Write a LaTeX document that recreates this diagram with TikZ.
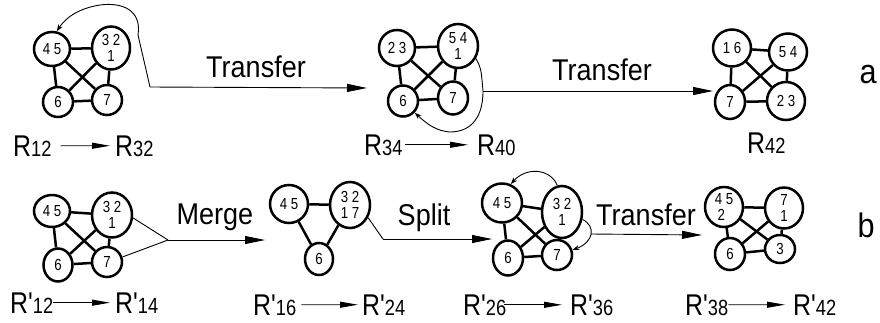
\documentclass[tikz,border=0pt]{standalone}
\usepackage{fontspec}
\setmainfont{Liberation Sans}[Ligatures=TeXOff]
\newfontfamily\condf{Liberation Sans}[Ligatures=TeXOff,FakeStretch=0.83]
\newfontfamily\opf{Liberation Sans}[Ligatures=TeXOff,FakeStretch=0.9]
\usetikzlibrary{arrows.meta,shapes.geometric}
\newcommand\Rsub[1]{{\fontsize{22}{22}\selectfont #1}}
\newcommand\Rl[1]{R\Rsub{#1}}
\newcommand\Rp[1]{R'\Rsub{#1}}
\begin{document}
\begin{tikzpicture}[x=1pt,y=-1pt,
 vtx/.style 2 args={ellipse,draw,line width=2.5pt,minimum width=#1,minimum height=#2,inner sep=0pt,align=center,font=\condf\fontsize{16}{16.5}\selectfont,fill=white},
 ed/.style={line width=2.5pt},
 conn/.style={line width=0.9pt},
 big/.style={-{Triangle[length=20pt,width=8pt]}},
 small/.style={-{Stealth[length=7pt,width=5pt]}},
 lab/.style={inner sep=0pt,font=\condf\fontsize{30}{30}\selectfont},
 larr/.style={line width=0.9pt,-{Triangle[length=18pt,width=6pt]}},
 op/.style={font=\opf\fontsize{30}{30}\selectfont,inner sep=0pt},
 side/.style={font=\opf\fontsize{34}{34}\selectfont,inner sep=0pt}]
\useasboundingbox (0,0) rectangle (880,322);

% ---------- Row a ----------
% graph 1
\node[vtx={36}{34}] (g1a) at (52,49) {4 5};
\node[vtx={38}{43}] (g1b) at (111,48) {3 2\\1};
\node[vtx={30}{30}] (g1c) at (58,102) {6};
\node[vtx={30}{30}] (g1d) at (107,100) {7};
\foreach \p/\q in {g1a/g1b,g1a/g1c,g1a/g1d,g1b/g1c,g1b/g1d,g1c/g1d} \draw[ed] (\p) -- (\q);
% graph 2
\node[vtx={36}{36}] (g2a) at (397,48) {2 3};
\node[vtx={40}{44}] (g2b) at (458,46) {5 4\\1};
\node[vtx={30}{31}] (g2c) at (403,101) {6};
\node[vtx={30}{33}] (g2d) at (453,98) {7};
\foreach \p/\q in {g2a/g2b,g2a/g2c,g2a/g2d,g2b/g2c,g2b/g2d,g2c/g2d} \draw[ed] (\p) -- (\q);
% graph 3
\node[vtx={38}{37}] (g3a) at (732,48) {1 6};
\node[vtx={38}{37}] (g3b) at (788,52) {5 4};
\node[vtx={30}{34}] (g3c) at (730,102) {7};
\node[vtx={38}{38}] (g3d) at (786,101) {2 3};
\foreach \p/\q in {g3a/g3b,g3a/g3c,g3a/g3d,g3b/g3c,g3b/g3d,g3c/g3d} \draw[ed] (\p) -- (\q);

% transfer 1
\coordinate (t1) at (150,87);
\coordinate (t1e) at (367,88);
\draw[conn,small] (t1) -- (138,35) .. controls (142,10) and (122,2) .. (100,5) .. controls (80,8) and (66,17) .. (g1a.75);
\draw[conn,big] (t1) -- (t1e);
\node[op] (tr1) at (256,67) {Transfer};
% transfer 2
\coordinate (t2) at (483,91);
\coordinate (t2e) at (713,91);
\draw[conn,small] (g2b.-35) .. controls (481,68) .. (t2) .. controls (483,122) and (467,132) .. (450,132) .. controls (437,131) and (428,125) .. (g2c.-45);
\draw[conn,big] (t2) -- (t2e);
\node[op] (tr2) at (602,70) {Transfer};
\node[side] (sa) at (868,75) {a};

% labels row a
\node[lab,anchor=base west] (la1) at (13,156) {\Rl{12}};
\node[lab,anchor=base west] (la2) at (115,156) {\Rl{32}};
\draw[larr,shorten <=9pt,shorten >=5pt] (la1) -- (la2);
\node[lab,anchor=base west] (la3) at (364,155) {\Rl{34}};
\node[lab,anchor=base west] (la4) at (477,155) {\Rl{40}};
\draw[larr,shorten <=2pt,shorten >=9pt] (la3) -- (la4);
\node[lab,anchor=base west] (la5) at (747,153) {\Rl{42}};

% ---------- Row b ----------
% graph 4
\node[vtx={36}{32}] (g4a) at (52,211) {4 5};
\node[vtx={40}{45}] (g4b) at (112,215) {3 2\\1};
\node[vtx={29}{33}] (g4c) at (58,265) {6};
\node[vtx={30}{30}] (g4d) at (107,262) {7};
\foreach \p/\q in {g4a/g4b,g4a/g4c,g4a/g4d,g4b/g4c,g4b/g4d,g4c/g4d} \draw[ed] (\p) -- (\q);
% graph 5
\node[vtx={38}{38}] (g5a) at (289,204) {4 5};
\node[vtx={40}{46}] (g5b) at (350,205) {3 2\\1 7};
\node[vtx={28}{32}] (g5c) at (319,259) {6};
\foreach \p/\q in {g5a/g5b,g5a/g5c,g5b/g5c} \draw[ed] (\p) -- (\q);
% graph 6
\node[vtx={40}{39}] (g6a) at (502,203) {4 5};
\node[vtx={40}{52}] (g6b) at (562,212) {3 2\\1};
\node[vtx={30}{35}] (g6c) at (508,258) {6};
\node[vtx={30}{30}] (g6d) at (557,255) {7};
\foreach \p/\q in {g6a/g6b,g6a/g6c,g6a/g6d,g6b/g6c,g6b/g6d,g6c/g6d} \draw[ed] (\p) -- (\q);
% graph 7
\node[vtx={38}{40}] (g7a) at (724,207) {4 5\\2\,\,};
\node[vtx={38}{41}] (g7b) at (784,208) {7\\1};
\node[vtx={30}{32}] (g7c) at (730,254) {6};
\node[vtx={30}{28}] (g7d) at (780,249) {3};
\foreach \p/\q in {g7a/g7b,g7a/g7c,g7a/g7d,g7b/g7c,g7b/g7d,g7c/g7d} \draw[ed] (\p) -- (\q);

% merge
\coordinate (m1) at (168,240);
\coordinate (m1e) at (265,240);
\draw[conn] (g4b.-8) -- (m1);
\draw[conn] (g4d.18) -- (m1);
\draw[conn,big] (m1) -- (m1e);
\node[op] (mg) at (215,217) {Merge};
% split
\coordinate (s1) at (383,239);
\coordinate (s1e) at (492,239);
\draw[conn] (g5b.-35) -- (s1);
\draw[conn,big] (s1) -- (s1e);
\node[op] (sp) at (424,218) {Split};
% transfer 3
\draw[conn,small] (g6b.100) .. controls (550,168) and (526,167) .. (g6a.65);
\coordinate (t3) at (591,234);
\coordinate (t3e) at (702,235);
\draw[conn,small] (g6b.-20) .. controls (596,226) and (594,242) .. (g6d.18);
\draw[conn,big] (t3) -- (t3e);
\node[op] (tr3) at (646,215) {Transfer};
\node[side] (sb) at (866,225) {b};

% labels row b
\node[lab,anchor=base west] (lb1) at (10,313) {\Rp{12}};
\node[lab,anchor=base west] (lb2) at (115,313) {\Rp{14}};
\draw[larr,shorten <=0pt,shorten >=5pt] (lb1) -- (lb2);
\node[lab,anchor=base west] (lb3) at (253,315) {\Rp{16}};
\node[lab,anchor=base west] (lb4) at (362,315) {\Rp{24}};
\draw[larr,shorten <=5pt,shorten >=4pt] (lb3) -- (lb4);
\node[lab,anchor=base west] (lb5) at (463,315) {\Rp{26}};
\node[lab,anchor=base west] (lb6) at (570,315) {\Rp{36}};
\draw[larr,shorten <=-2pt,shorten >=8pt] (lb5) -- (lb6);
\node[lab,anchor=base west] (lb7) at (685,315) {\Rp{38}};
\node[lab,anchor=base west] (lb8) at (793,315) {\Rp{42}};
\draw[larr,shorten <=0pt,shorten >=8pt] (lb7) -- (lb8);
\end{tikzpicture}
\end{document}
